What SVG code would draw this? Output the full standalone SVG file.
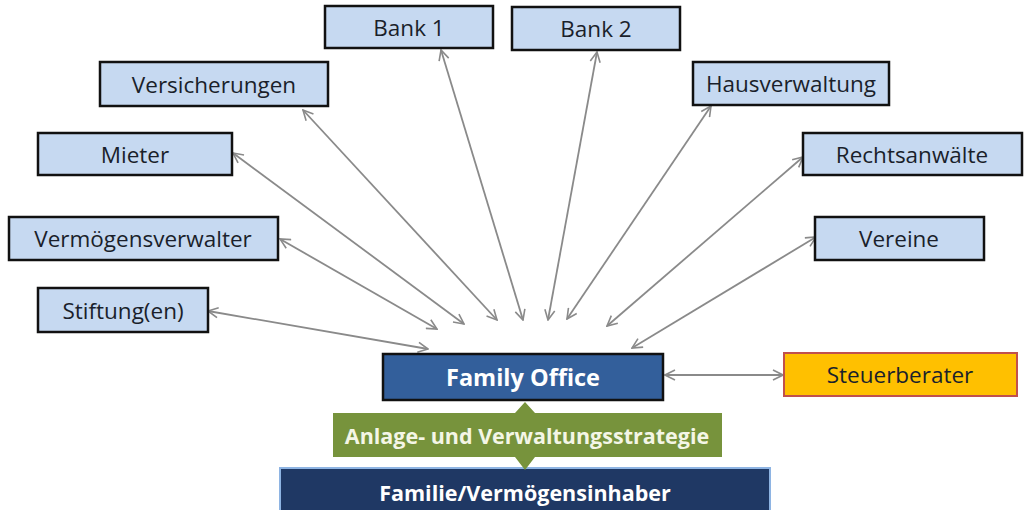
<svg xmlns="http://www.w3.org/2000/svg" width="1024" height="510" viewBox="0 0 1024 510">
<defs>
<marker id="ah" viewBox="0 0 12 12" refX="11" refY="6" markerWidth="12" markerHeight="12" markerUnits="userSpaceOnUse" orient="auto-start-reverse">
<path d="M1,1 L11,6 L1,11" fill="none" stroke="#8a8a8a" stroke-width="1.6"/>
</marker>
</defs>
<style>
.box{fill:#c6d9f1;stroke:#111;stroke-width:2.5}
.lbl{font-family:"Open Sans","Noto Sans",sans-serif;font-size:22.5px;fill:#1a1f2b;text-anchor:middle;dominant-baseline:central}
.wl{font-family:"Open Sans","Noto Sans",sans-serif;font-size:21.5px;font-weight:bold;fill:#fff;text-anchor:middle;dominant-baseline:central}
.c{stroke:#8a8a8a;stroke-width:1.8;fill:none;marker-start:url(#ah);marker-end:url(#ah)}
</style>
<rect width="1024" height="510" fill="#fff"/>
<g id="connectors">
<line class="c" x1="208" y1="311" x2="428" y2="349"/>
<line class="c" x1="280" y1="239" x2="437" y2="329"/>
<line class="c" x1="233" y1="153" x2="464" y2="324"/>
<line class="c" x1="303" y1="110" x2="497" y2="320"/>
<line class="c" x1="441" y1="50" x2="523" y2="320"/>
<line class="c" x1="597" y1="52" x2="548" y2="320"/>
<line class="c" x1="711" y1="106" x2="567" y2="319"/>
<line class="c" x1="803" y1="157" x2="607" y2="326"/>
<line class="c" x1="816" y1="237" x2="632" y2="348"/>
<line class="c" x1="665" y1="375" x2="783" y2="375"/>
</g>
<g id="bank1"><rect class="box" x="325" y="6" width="168" height="42"/><text class="lbl" x="409" y="27">Bank 1</text></g>
<g id="bank2"><rect class="box" x="512" y="7" width="168" height="43"/><text class="lbl" x="596" y="28">Bank 2</text></g>
<g id="versicherungen"><rect class="box" x="100" y="62" width="228" height="44"/><text class="lbl" x="214" y="84">Versicherungen</text></g>
<g id="hausverwaltung"><rect class="box" x="693" y="62" width="196" height="43"/><text class="lbl" x="791" y="83">Hausverwaltung</text></g>
<g id="mieter"><rect class="box" x="38" y="133" width="194" height="42"/><text class="lbl" x="135" y="154">Mieter</text></g>
<g id="rechtsanwaelte"><rect class="box" x="803" y="133" width="219" height="42"/><text class="lbl" x="912" y="154">Rechtsanwälte</text></g>
<g id="vermoegensverwalter"><rect class="box" x="9" y="217" width="269" height="43"/><text class="lbl" x="143" y="238">Vermögensverwalter</text></g>
<g id="vereine"><rect class="box" x="815" y="217" width="169" height="43"/><text class="lbl" x="899" y="238">Vereine</text></g>
<g id="stiftungen"><rect class="box" x="38" y="288" width="170" height="44"/><text class="lbl" x="123" y="310">Stiftung(en)</text></g>
<g id="family-office"><rect x="383" y="354" width="280" height="46" fill="#335f9b" stroke="#111" stroke-width="2.5"/><text class="wl" x="523" y="377" style="font-size:23.5px">Family Office</text></g>
<g id="steuerberater"><rect x="784" y="353" width="233" height="43" fill="#ffc000" stroke="#c0504d" stroke-width="2"/><text class="lbl" x="900" y="374">Steuerberater</text></g>
<g id="familie"><rect x="280" y="468" width="490" height="50" fill="#1f3864" stroke="#8eb4e3" stroke-width="2"/><text class="wl" x="525" y="492">Familie/Vermögensinhaber</text></g>
<g id="strategie"><path d="M333,413 H515 L525,402 L535,413 H722 V457 H535 L525,470 L515,457 H333 Z" fill="#77933c"/><text class="wl" x="527" y="435" style="fill:#f4f6e6">Anlage- und Verwaltungsstrategie</text></g>
</svg>
